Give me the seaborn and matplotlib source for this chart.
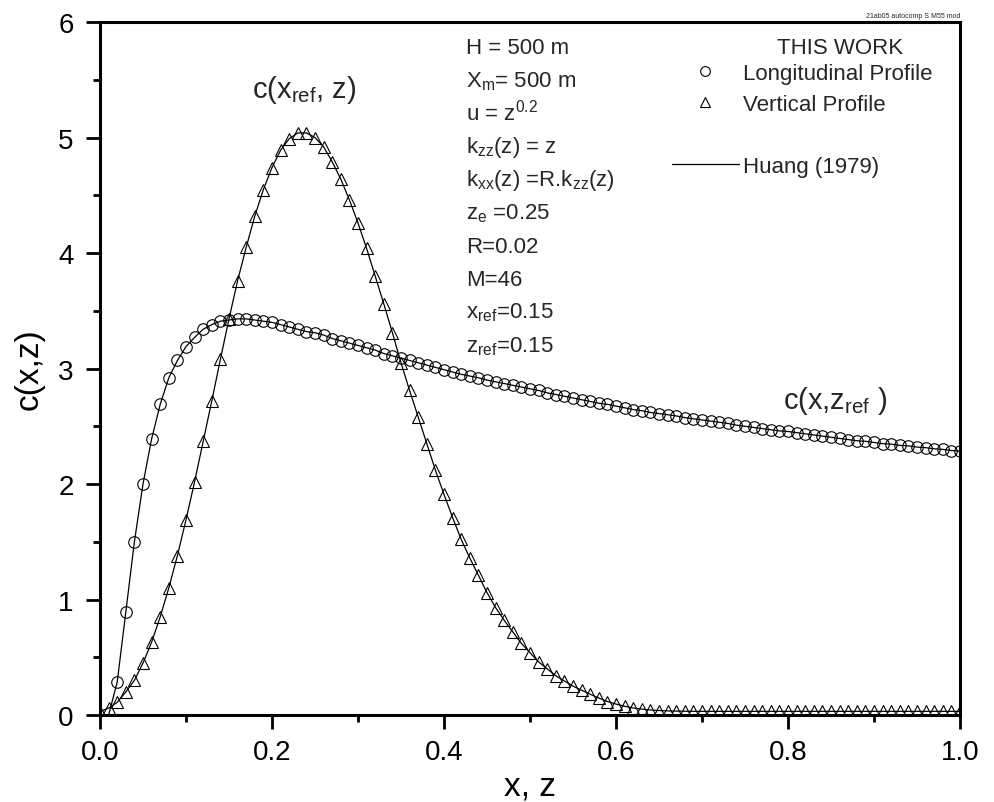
import numpy as np
import pandas as pd
import matplotlib
matplotlib.use("Agg")
import matplotlib.pyplot as plt
from matplotlib.lines import Line2D
from matplotlib.ticker import MultipleLocator, FormatStrFormatter
import seaborn as sns

# ---------------- data ----------------
# Longitudinal profile c(x, z_ref), x = 0.01 ... 1.00
x_long = [round(0.01 * i, 2) for i in range(1, 101)]
c_long = [0.00, 0.285, 0.89, 1.50, 2.00, 2.39, 2.69, 2.92, 3.07, 3.19,
          3.27, 3.34, 3.38, 3.41, 3.42, 3.43, 3.43, 3.42, 3.41, 3.40,
          3.38, 3.36, 3.34, 3.32, 3.31, 3.29, 3.26, 3.24, 3.22, 3.20,
          3.18, 3.16, 3.13, 3.11, 3.09, 3.07, 3.05, 3.03, 3.01, 2.99,
          2.97, 2.95, 2.935, 2.92, 2.90, 2.885, 2.87, 2.855, 2.84, 2.825,
          2.81, 2.79, 2.775, 2.76, 2.745, 2.73, 2.715, 2.70, 2.69, 2.675,
          2.66, 2.645, 2.635, 2.62, 2.61, 2.60, 2.59, 2.575, 2.565, 2.555,
          2.545, 2.535, 2.525, 2.51, 2.50, 2.49, 2.48, 2.47, 2.46, 2.455,
          2.445, 2.435, 2.425, 2.415, 2.405, 2.395, 2.385, 2.375, 2.37, 2.36,
          2.35, 2.345, 2.335, 2.33, 2.32, 2.315, 2.305, 2.30, 2.29, 2.285]

# Vertical profile c(x_ref, z), z = 0.00 ... 1.00
z_vert = [round(0.01 * i, 2) for i in range(0, 101)]
c_vert = [0.03, 0.06, 0.11, 0.20, 0.30, 0.45, 0.63, 0.85, 1.10, 1.38,
          1.69, 2.02, 2.37, 2.72, 3.08, 3.43, 3.76, 4.05, 4.32, 4.55,
          4.74, 4.89, 4.99, 5.04, 5.04, 5.00, 4.92, 4.79, 4.64, 4.46,
          4.26, 4.04, 3.80, 3.56, 3.31, 3.05, 2.81, 2.58, 2.35, 2.12,
          1.91, 1.71, 1.52, 1.36, 1.21, 1.06, 0.93, 0.82, 0.72, 0.62,
          0.54, 0.46, 0.40, 0.34, 0.295, 0.25, 0.215, 0.18, 0.147, 0.117,
          0.095, 0.076, 0.061, 0.051, 0.044, 0.039, 0.036, 0.034, 0.033, 0.032,
          0.032, 0.032, 0.032, 0.032, 0.032, 0.032, 0.032, 0.032, 0.032, 0.032,
          0.032, 0.032, 0.032, 0.032, 0.032, 0.032, 0.032, 0.032, 0.032, 0.032,
          0.032, 0.032, 0.032, 0.032, 0.032, 0.032, 0.032, 0.032, 0.032, 0.032,
          0.032]

x_ticks = [0.0, 0.2, 0.4, 0.6, 0.8, 1.0]
y_ticks = [0, 1, 2, 3, 4, 5, 6]

param_lines = [
    'H = 500 m',
    r'X$_{\mathrm{m}}$= 500 m',
    r'u = z$^{\mathrm{0.2}}$',
    r'k$_{\mathrm{zz}}$(z) = z',
    r'k$_{\mathrm{xx}}$(z) =R.k$_{\mathrm{zz}}$(z)',
    r'z$_{\mathrm{e}}$ =0.25',
    'R=0.02',
    'M=46',
    r'x$_{\mathrm{ref}}$=0.15',
    r'z$_{\mathrm{ref}}$=0.15',
]

# ---------------- style ----------------
sns.set_theme(style="ticks")
plt.rcParams['font.family'] = ['Liberation Sans', 'DejaVu Sans']
plt.rcParams['mathtext.fontset'] = 'custom'
plt.rcParams['mathtext.rm'] = 'Liberation Sans'
plt.rcParams['mathtext.it'] = 'Liberation Sans:italic'
plt.rcParams['mathtext.bf'] = 'Liberation Sans:bold'

fig = plt.figure(figsize=(9.94, 8.03), dpi=100)
ax = fig.add_axes([0.1006, 0.1083, 0.8652, 0.8630])

df_long = pd.DataFrame({'x': x_long, 'c': c_long})
df_vert = pd.DataFrame({'x': z_vert, 'c': c_vert})

MS_O, MS_T = 8.3, 9.0
sns.lineplot(data=df_long, x='x', y='c', ax=ax, color='black', lw=0.9,
             marker='o', ms=MS_O, mfc='none', mec='black', mew=0.8,
             markevery=slice(1, None), estimator=None, sort=True)
sns.lineplot(data=df_vert, x='x', y='c', ax=ax, color='black', lw=0.9,
             marker='^', ms=MS_T, mfc='none', mec='black', mew=0.8,
             estimator=None, sort=True)

ax.set_xlim(0, 1.0)
ax.set_ylim(0, 6)
ax.set_xticks(x_ticks)
ax.set_yticks(y_ticks)
ax.xaxis.set_major_formatter(FormatStrFormatter('%.1f'))
ax.yaxis.set_major_formatter(FormatStrFormatter('%d'))
ax.xaxis.set_minor_locator(MultipleLocator(0.1))
ax.yaxis.set_minor_locator(MultipleLocator(0.5))
ax.tick_params(which='major', direction='out', length=10, width=2.0,
               labelsize=20, color='black', labelcolor='black')
ax.tick_params(axis='x', which='major', pad=7)
ax.tick_params(axis='y', which='major', pad=9)
ax.tick_params(which='minor', direction='out', length=5, width=2.0, color='black')
ax.tick_params(top=False, right=False, which='both')
for s in ax.spines.values():
    s.set_visible(True)
    s.set_linewidth(2.2)
    s.set_color('black')

ax.set_xlabel('x, z', fontsize=24, labelpad=4, color='black')
ax.set_ylabel('c(x,z)', fontsize=24, labelpad=10, color='black')

# curve labels
ax.text(0.177, 5.35, r'c(x$_{\mathrm{ref}}$, z)', fontsize=21, va='baseline', ha='left')
ax.text(0.794, 2.66, r'c(x,z$_{\mathrm{ref}}$ )', fontsize=21, va='baseline', ha='left')

# parameter list
x_txt = (466 - 100) / 860
base0, step = 54, 33.1
for i, t in enumerate(param_lines):
    py = base0 + i * step
    ax.text(x_txt, (716 - py) / 693, t, fontsize=16, transform=ax.transAxes,
            va='baseline', ha='left')

# legend
handles = [
    Line2D([], [], ls='none', marker='o', ms=7, mfc='none', mec='black', mew=0.8),
    Line2D([], [], ls='none', marker='^', ms=7.5, mfc='none', mec='black', mew=0.8),
    Line2D([], [], ls='none'),
    Line2D([], [], color='black', lw=0.9),
]
labels = ['Longitudinal Profile', 'Vertical Profile', ' ', 'Huang (1979)']
leg = ax.legend(handles, labels, loc='upper left',
                bbox_to_anchor=((672 - 100) / 860, (716 - 64) / 693),
                frameon=False, fontsize=16,
                handlelength=3.0, handletextpad=0.2, labelspacing=0.45,
                borderpad=0.0, borderaxespad=0.0)
ax.text((840 - 100) / 860, (716 - 54) / 693, 'THIS WORK', fontsize=16,
        transform=ax.transAxes, ha='center', va='baseline')

fig.text(960 / 994, 1 - 17 / 803, '21ab05 autocomp S M55 mod', fontsize=5,
         ha='right', va='center')

fig.savefig('out.png', dpi=100)
